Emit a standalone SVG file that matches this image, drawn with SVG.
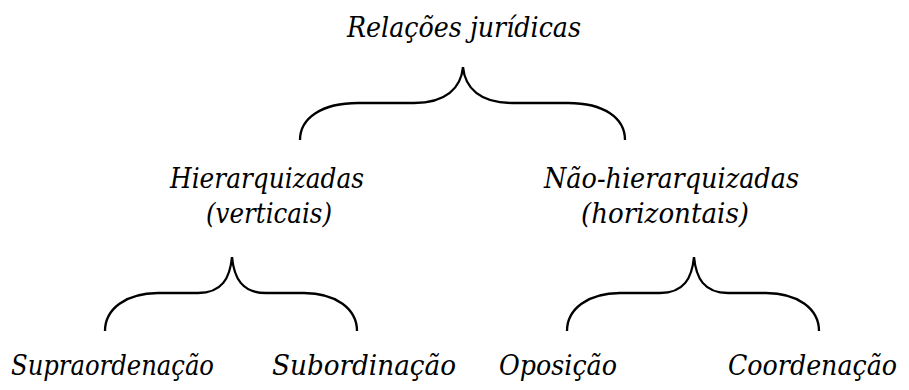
<svg xmlns="http://www.w3.org/2000/svg" width="909" height="390" viewBox="0 0 909 390">
<style>
.brace{fill:none;stroke:#000;stroke-width:2.3;stroke-linecap:butt}
text{font-family:"DejaVu Serif","Liberation Serif",serif;font-size:27px;font-style:italic;fill:#000}
</style>
<rect width="909" height="390" fill="#fff"/>
<g id="connectors">
<path class="brace" d="M300,140 C300,118 322,103 358,103 L414,103 C446,103 461,88 463,67 C465,88 480,103 512,103 L568,103 C604,103 625,118 625,140"/>
<path class="brace" d="M105,331 C105,309 126,293 158,293 L198,293 C222,293 230,278 232,257 C234,278 242,293 266,293 L304,293 C336,293 357,309 357,331"/>
<path class="brace" d="M567,331 C567,309 588,293 620,293 L660,293 C684,293 692,278 694,257 C696,278 704,293 728,293 L766,293 C798,293 819,309 819,331"/>
</g>
<g id="root"><text x="347" y="37" textLength="234" lengthAdjust="spacingAndGlyphs">Relações jurídicas</text></g>
<g id="hier"><text x="170" y="188" textLength="194" lengthAdjust="spacingAndGlyphs">Hierarquizadas</text><text x="206" y="223" textLength="126" lengthAdjust="spacingAndGlyphs">(verticais)</text></g>
<g id="naohier"><text x="544" y="188" textLength="255" lengthAdjust="spacingAndGlyphs">Não-hierarquizadas</text><text x="581" y="223" textLength="168" lengthAdjust="spacingAndGlyphs">(horizontais)</text></g>
<g id="supra"><text x="11" y="375" textLength="203" lengthAdjust="spacingAndGlyphs">Supraordenação</text></g>
<g id="sub"><text x="272" y="375" textLength="184" lengthAdjust="spacingAndGlyphs">Subordinação</text></g>
<g id="opos"><text x="499" y="375" textLength="118" lengthAdjust="spacingAndGlyphs">Oposição</text></g>
<g id="coord"><text x="728" y="375" textLength="169" lengthAdjust="spacingAndGlyphs">Coordenação</text></g>
</svg>
